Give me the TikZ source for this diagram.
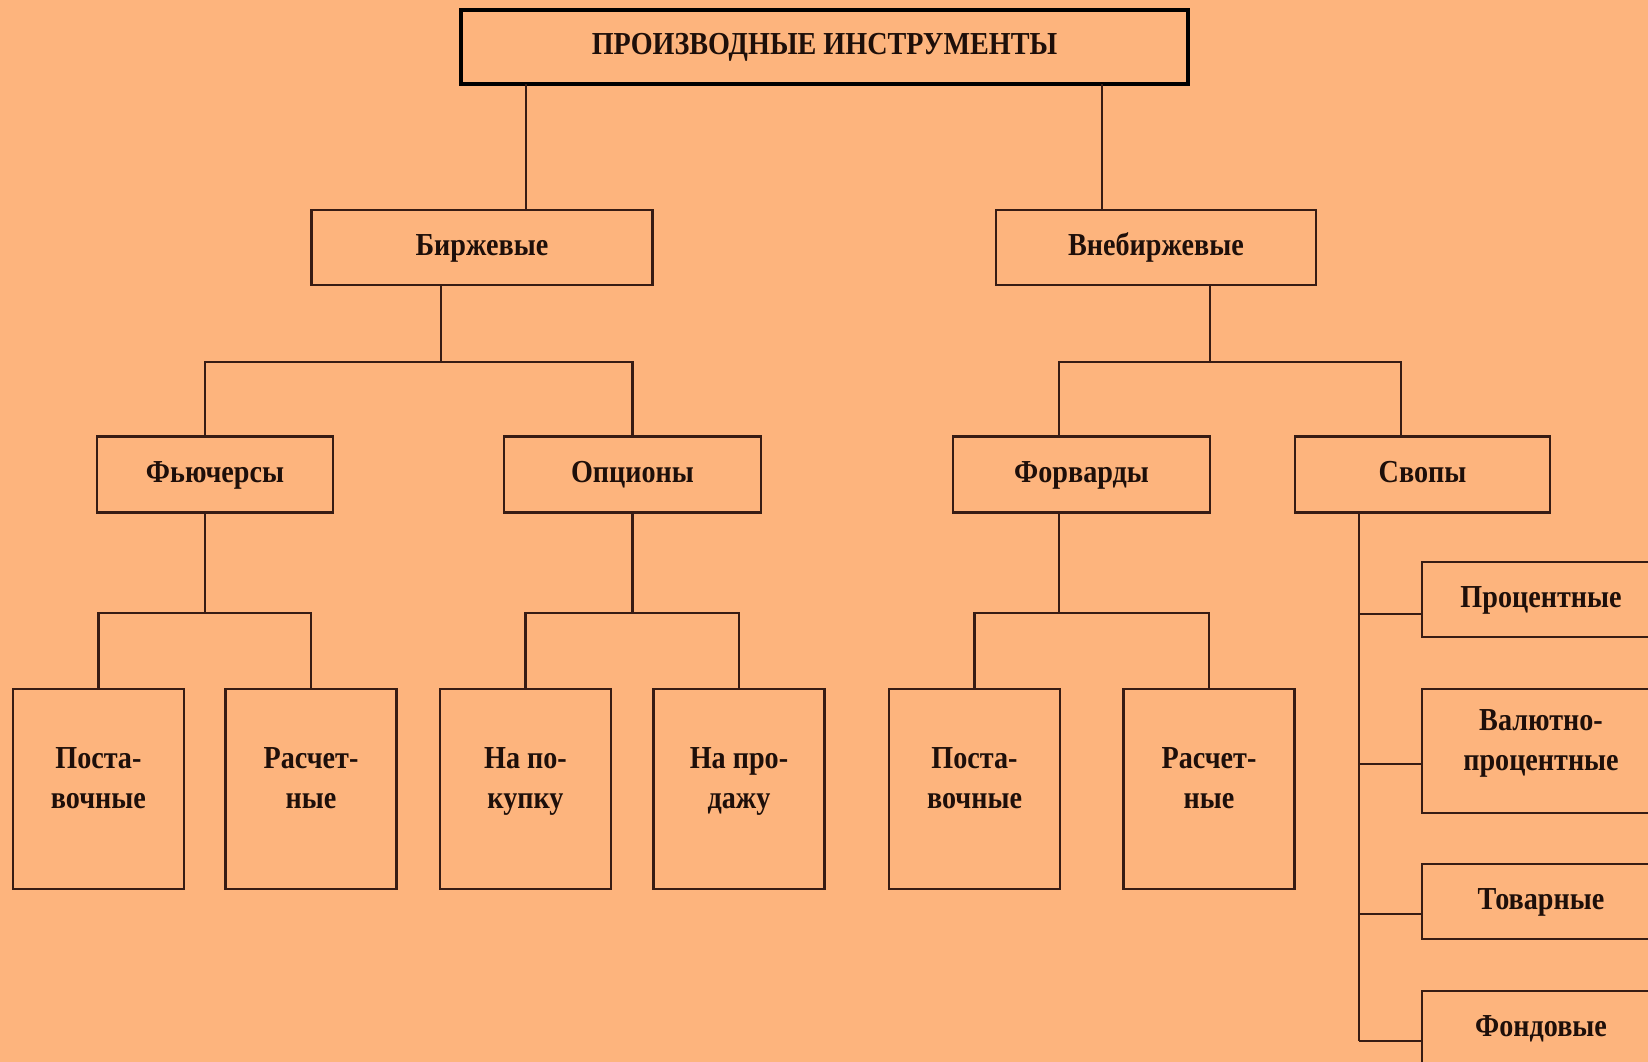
\documentclass[tikz,border=0pt]{standalone}
\usepackage{fontspec}
\setmainfont{Liberation Serif}[FakeStretch=0.88]
\definecolor{bg}{RGB}{253,180,125}
\definecolor{ln}{RGB}{55,28,20}
\definecolor{tx}{RGB}{30,15,10}
\begin{document}
\begin{tikzpicture}[x=1pt,y=-1pt,
  bx/.style={draw=ln, line width=2.2pt, fill=bg, inner sep=0pt, outer sep=0pt,
    font=\fontsize{32}{40}\selectfont\bfseries, text=tx, align=center},
  sbox/.style={bx, text height=22pt, text depth=7pt},
  tbox/.style={bx, minimum width=171pt, minimum height=200pt, text depth=22pt},
  conn/.style={draw=ln, line width=2.2pt}]
\fill[bg] (0,0) rectangle (1648,1062);
\useasboundingbox (0,0) rectangle (1648,1062);
\clip (0,0) rectangle (1648,1062);

% top
\node[sbox, draw=black, line width=4pt, minimum width=727pt, minimum height=74pt] (top) at (824.5,47) {ПРОИЗВОДНЫЕ ИНСТРУМЕНТЫ};

% level 1
\node[sbox, minimum width=341pt, minimum height=75pt] (birzh) at (482,247.5) {Биржевые};
\node[sbox, minimum width=320pt, minimum height=75pt] (vneb) at (1156,247.5) {Внебиржевые};

% level 2
\node[sbox, minimum width=236pt, minimum height=76pt] (fut) at (215,474.5) {Фьючерсы};
\node[sbox, minimum width=257pt, minimum height=76pt] (opt) at (632.5,474.5) {Опционы};
\node[sbox, minimum width=257pt, minimum height=76pt] (fwd) at (1081.5,474.5) {Форварды};
\node[sbox, minimum width=255pt, minimum height=76pt] (swp) at (1422.5,474.5) {Свопы};

% level 3
\node[tbox] (post1) at (98.4,789) {Поста-\\вочные};
\node[tbox] (rasch1) at (311,789) {Расчет-\\ные};
\node[tbox] (buy) at (525.5,789) {На по-\\купку};
\node[tbox] (sell) at (739,789) {На про-\\дажу};
\node[tbox] (post2) at (974.5,789) {Поста-\\вочные};
\node[tbox] (rasch2) at (1209,789) {Расчет-\\ные};

% swaps column
\node[sbox, minimum width=238pt, minimum height=75pt] (proc) at (1541,599.5) {Процентные};
\node[tbox, minimum width=238pt, minimum height=124pt] (val) at (1541,751) {Валютно-\\процентные};
\node[sbox, minimum width=238pt, minimum height=75pt] (tov) at (1541,901.5) {Товарные};
\node[sbox, minimum width=238pt, minimum height=75pt] (fond) at (1541,1028.5) {Фондовые};

% connectors: top
\coordinate (uB) at (526,210);
\coordinate (uV) at (1102,210);
\draw[conn] (top.south -| uB) -- (uB);
\draw[conn] (top.south -| uV) -- (uV);

% level 1 -> 2
\coordinate (jB) at (441,362);
\coordinate (kF) at (205,362);
\coordinate (kO) at (632.5,362);
\draw[conn] (birzh.south -| jB) -- (jB);
\draw[conn] (fut.north -| kF) -- (kF) -- (kO) -- (opt.north);

\coordinate (jV) at (1210,362);
\coordinate (kW) at (1059,362);
\coordinate (kS) at (1401,362);
\draw[conn] (vneb.south -| jV) -- (jV);
\draw[conn] (fwd.north -| kW) -- (kW) -- (kS) -- (swp.north -| kS);

% level 2 -> 3
\coordinate (mF) at (205,613);
\draw[conn] (fut.south -| mF) -- (mF);
\draw[conn] (post1.north) |- (mF) -| (rasch1.north);

\coordinate (mO) at (632.5,613);
\draw[conn] (opt.south) -- (mO);
\draw[conn] (buy.north) |- (mO) -| (sell.north);

\coordinate (mW) at (1059,613);
\draw[conn] (fwd.south -| mW) -- (mW);
\draw[conn] (post2.north) |- (mW) -| (rasch2.north);

% swaps
\coordinate (s1) at (1359,614);
\coordinate (s2) at (1359,764);
\coordinate (s3) at (1359,914);
\coordinate (s4) at (1359,1041);
\draw[conn] (swp.south -| s1) -- (s4);
\draw[conn] (s1) -- (s1 -| proc.west);
\draw[conn] (s2) -- (s2 -| val.west);
\draw[conn] (s3) -- (s3 -| tov.west);
\draw[conn] (s4) -- (s4 -| fond.west);
\end{tikzpicture}
\end{document}
